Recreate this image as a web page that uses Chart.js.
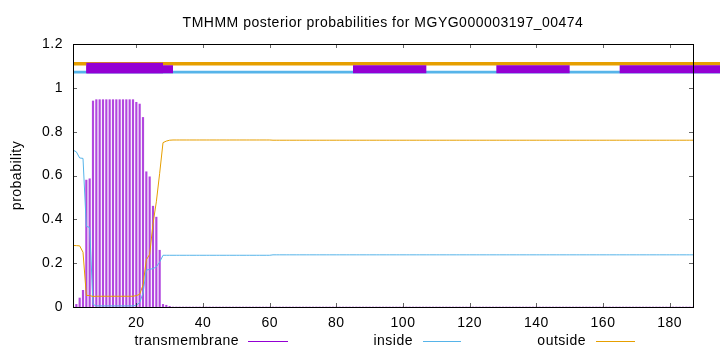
<!DOCTYPE html>
<html><head><meta charset="utf-8">
<script src="https://cdn.jsdelivr.net/npm/chart.js@4.4.0/dist/chart.umd.min.js"></script>
<style>html,body{margin:0;padding:0;background:#fff;}#wrap{width:720px;height:352px;position:relative;}</style>
</head><body><div id="wrap"><canvas id="c" width="720" height="352"></canvas></div>
<script>
const titleText = 'TMHMM posterior probabilities for MGYG000003197_00474';
const yAxisLabel = 'probability';
const seriesLabels = ['transmembrane', 'inside', 'outside'];
const xTicks = [20, 40, 60, 80, 100, 120, 140, 160, 180];
const yTicks = [0, 0.2, 0.4, 0.6, 0.8, 1, 1.2];

const transmembrane = [
0.004,0.012,0.041,0.076,0.579,0.585,0.940,0.946,0.946,0.946,0.946,0.946,0.946,0.946,0.946,0.946,0.946,0.946,0.946,0.934,
0.926,0.865,0.617,0.594,0.460,0.410,0.259,0.012,0.008,0.003,0,0,0,0,0,0,0,0,0,0,
0,0,0,0,0,0,0,0,0,0,0,0,0,0,0,0,0,0,0,0,
0,0,0,0,0,0,0,0,0,0,0,0,0,0,0,0,0,0,0,0,
0,0,0,0,0,0,0,0,0,0,0,0,0,0,0,0,0,0,0,0,
0,0,0,0,0,0,0,0,0,0,0,0,0,0,0,0,0,0,0,0,
0,0,0,0,0,0,0,0,0,0,0,0,0,0,0,0,0,0,0,0,
0,0,0,0,0,0,0,0,0,0,0,0,0,0,0,0,0,0,0,0,
0,0,0,0,0,0,0,0,0,0,0,0,0,0,0,0,0,0,0,0,
0,0,0,0,0,0,0
];
const inside = [
0.716,0.708,0.680,0.678,0.368,0.363,0.012,0.005,0.005,0.005,0.005,0.005,0.005,0.005,0.005,0.005,0.005,0.005,0.005,0.008,
0.020,0.063,0.168,0.172,0.175,0.183,0.205,0.236,0.236,0.236,0.236,0.236,0.236,0.236,0.236,0.236,0.236,0.236,0.236,0.236,
0.236,0.236,0.236,0.236,0.236,0.236,0.236,0.236,0.236,0.236,0.236,0.236,0.236,0.236,0.236,0.236,0.236,0.236,0.236,0.236,
0.238,0.238,0.238,0.238,0.238,0.238,0.238,0.238,0.238,0.238,0.238,0.238,0.238,0.238,0.238,0.238,0.238,0.238,0.238,0.238,
0.238,0.238,0.238,0.238,0.238,0.238,0.238,0.238,0.238,0.238,0.238,0.238,0.238,0.238,0.238,0.238,0.238,0.238,0.238,0.238,
0.238,0.238,0.238,0.238,0.238,0.238,0.238,0.238,0.238,0.238,0.238,0.238,0.238,0.238,0.238,0.238,0.238,0.238,0.238,0.238,
0.238,0.238,0.238,0.238,0.238,0.238,0.238,0.238,0.238,0.238,0.238,0.238,0.238,0.238,0.238,0.238,0.238,0.238,0.238,0.238,
0.238,0.238,0.238,0.238,0.238,0.238,0.238,0.238,0.238,0.238,0.238,0.238,0.238,0.238,0.238,0.238,0.238,0.238,0.238,0.238,
0.238,0.238,0.238,0.238,0.238,0.238,0.238,0.238,0.238,0.238,0.238,0.238,0.238,0.238,0.238,0.238,0.238,0.238,0.238,0.238,
0.238,0.238,0.238,0.238,0.238,0.238,0.238
];
const outside = [
0.281,0.280,0.279,0.250,0.053,0.052,0.048,0.049,0.049,0.049,0.049,0.049,0.049,0.049,0.049,0.049,0.049,0.049,0.049,0.052,
0.058,0.100,0.215,0.240,0.380,0.480,0.610,0.750,0.757,0.761,0.762,0.762,0.762,0.762,0.762,0.762,0.762,0.762,0.762,0.762,
0.762,0.762,0.762,0.762,0.762,0.762,0.762,0.762,0.762,0.762,0.762,0.762,0.762,0.762,0.762,0.762,0.762,0.762,0.762,0.762,
0.761,0.761,0.761,0.761,0.761,0.761,0.761,0.761,0.761,0.761,0.761,0.761,0.761,0.761,0.761,0.761,0.761,0.761,0.761,0.761,
0.761,0.761,0.761,0.761,0.761,0.761,0.761,0.761,0.761,0.761,0.761,0.761,0.761,0.761,0.761,0.761,0.761,0.761,0.761,0.761,
0.761,0.761,0.761,0.761,0.761,0.761,0.761,0.761,0.761,0.761,0.761,0.761,0.761,0.761,0.761,0.761,0.761,0.761,0.761,0.761,
0.761,0.761,0.761,0.761,0.761,0.761,0.761,0.761,0.761,0.761,0.761,0.761,0.761,0.761,0.761,0.761,0.761,0.761,0.761,0.761,
0.761,0.761,0.761,0.761,0.761,0.761,0.761,0.761,0.761,0.761,0.761,0.761,0.761,0.761,0.761,0.761,0.761,0.761,0.761,0.761,
0.761,0.761,0.761,0.761,0.761,0.761,0.761,0.761,0.761,0.761,0.761,0.761,0.761,0.761,0.761,0.761,0.761,0.761,0.761,0.761,
0.761,0.761,0.761,0.761,0.761,0.761,0.761
];

// Topology track segments (start, end residue)
const outsideTrack = [[1, 196]];
const insideTrack = [[1, 196]];
const tmTrackTall = [[5, 28]];
const tmTrack = [[5, 31], [85, 107], [128, 150], [165, 196]];
const outsideLevel = 1.110;
const insideLevel = 1.072;
const tmLevel = 1.0846;
const tmTallLevel = 1.0905;

const COL_TM = '#9400d3', COL_IN = '#56b4e9', COL_OUT = '#e69f00';
const FONT = "'Liberation Sans', Arial, sans-serif";
const LS = '0.5px';

const pts = arr => arr.map((v, i) => ({x: i + 1, y: v}));
const seg = (s, lvl) => [{x: s[0], y: lvl}, {x: s[1], y: lvl}];
const trackSet = (segs, lvl, color, w, order) => segs.map(s => ({
  type: 'line', data: seg(s, lvl), borderColor: color, borderWidth: w, pointRadius: 0,
  clip: false, order: order, borderCapStyle: 'butt'
}));

const datasets = [
  ...trackSet(outsideTrack, outsideLevel, COL_OUT, 3.4, 12),
  ...trackSet(insideTrack, insideLevel, COL_IN, 2.8, 11),
  ...trackSet(tmTrack, tmLevel, COL_TM, 8, 10),
  ...trackSet(tmTrackTall, tmTallLevel, COL_TM, 10.6, 10),
  {type: 'line', label: seriesLabels[1], data: pts(inside), borderColor: COL_IN, borderWidth: 1, pointRadius: 0, order: 3},
  {type: 'line', label: seriesLabels[2], data: pts(outside), borderColor: COL_OUT, borderWidth: 1, pointRadius: 0, order: 2},
  {type: 'bar', label: seriesLabels[0], data: pts(transmembrane), backgroundColor: 'rgba(148,0,211,0.72)', barThickness: 1.5, order: 5}
];

const deco = {
  id: 'deco',
  beforeDraw(chart) { chart.ctx.letterSpacing = LS; },
  afterDraw(chart) {
    const ctx = chart.ctx, a = chart.chartArea, xs = chart.scales.x, ys = chart.scales.y;
    ctx.save();
    ctx.letterSpacing = LS;
    // ticks (inward, mirrored)
    ctx.strokeStyle = 'rgba(0,0,0,0.6)'; ctx.lineWidth = 1;
    ctx.beginPath();
    xTicks.forEach(v => {
      const px = Math.round(xs.getPixelForValue(v)) + 0.5;
      ctx.moveTo(px, a.bottom); ctx.lineTo(px, a.bottom - 4);
      ctx.moveTo(px, a.top); ctx.lineTo(px, a.top + 4);
    });
    yTicks.forEach(v => {
      const py = Math.round(ys.getPixelForValue(v)) + 0.5;
      ctx.moveTo(a.left, py); ctx.lineTo(a.left + 4, py);
      ctx.moveTo(a.right, py); ctx.lineTo(a.right - 4, py);
    });
    ctx.stroke();
    // border
    ctx.strokeStyle = '#000'; ctx.lineWidth = 1;
    ctx.strokeRect(Math.round(a.left) + 0.5, Math.round(a.top) + 0.5, Math.round(a.right - a.left), Math.round(a.bottom - a.top));
    // title
    ctx.fillStyle = '#000';
    ctx.font = '14px ' + FONT;
    ctx.textAlign = 'center'; ctx.textBaseline = 'alphabetic';
    ctx.fillText(titleText, (a.left + a.right) / 2, 27);
    // y axis title
    ctx.save();
    ctx.translate(17, (a.top + a.bottom) / 2);
    ctx.rotate(-Math.PI / 2);
    ctx.textBaseline = 'middle';
    ctx.fillText(yAxisLabel, 0, 0);
    ctx.restore();
    // legend
    const items = [
      {label: seriesLabels[0], color: COL_TM, textEnd: 239, l0: 248, l1: 288},
      {label: seriesLabels[1], color: COL_IN, textEnd: 413, l0: 423, l1: 461},
      {label: seriesLabels[2], color: COL_OUT, textEnd: 586, l0: 596, l1: 635}
    ];
    const ly = 341;
    items.forEach(it => {
      ctx.fillStyle = '#000';
      ctx.textAlign = 'right'; ctx.textBaseline = 'middle';
      ctx.fillText(it.label, it.textEnd, ly);
      ctx.strokeStyle = it.color; ctx.lineWidth = 1;
      ctx.beginPath(); ctx.moveTo(it.l0, ly + 0.5); ctx.lineTo(it.l1, ly + 0.5); ctx.stroke();
    });
    ctx.restore();
  }
};

new Chart(document.getElementById('c'), {
  type: 'line',
  data: {datasets},
  options: {
    responsive: false,
    animation: false,
    events: [],
    layout: {padding: {top: 44, right: 27, left: 0, bottom: 0}},
    plugins: {legend: {display: false}, title: {display: false}, tooltip: {enabled: false}},
    scales: {
      x: {
        type: 'linear', min: 1, max: 187, offset: false,
        grid: {display: false, drawTicks: false}, border: {display: false},
        ticks: {font: {size: 14, family: FONT}, color: '#000', padding: 8, maxRotation: 0, autoSkip: false},
        afterBuildTicks: s => { s.ticks = xTicks.map(v => ({value: v})); },
        afterFit: s => { s.height = 45; }
      },
      y: {
        type: 'linear', min: 0, max: 1.2,
        grid: {display: false, drawTicks: false}, border: {display: false},
        ticks: {font: {size: 14, family: FONT}, color: '#000', padding: 10, callback: v => String(v)},
        afterBuildTicks: s => { s.ticks = yTicks.map(v => ({value: v})); },
        afterFit: s => { s.width = 73; }
      }
    }
  },
  plugins: [deco]
});
</script>
</body></html>
